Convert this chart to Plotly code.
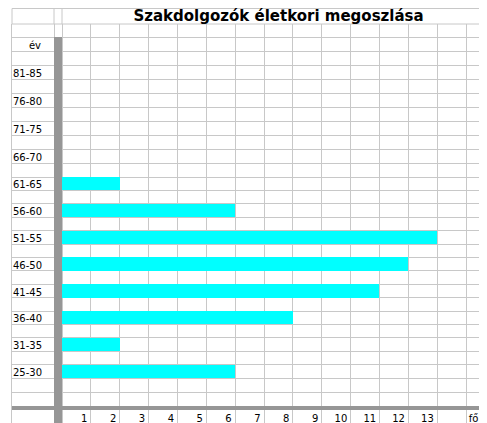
import plotly.graph_objects as go

# ---- data ----
age_groups = ["25-30", "31-35", "36-40", "41-45", "46-50", "51-55",
              "56-60", "61-65", "66-70", "71-75", "76-80", "81-85"]
counts = [6, 2, 8, 11, 12, 13, 6, 2, 0, 0, 0, 0]
header_label = "év"
unit_label = "fő"
x_tick_numbers = list(range(1, 14))
title_text = "Szakdolgozók életkori megoszlása"

# ---- geometry (page has an 8px body margin, so the figure is shifted) ----
OFF = 8
W, H = 487 - OFF, 423 - OFF
ML, MT = 12 - OFF, 24 - OFF
PW, PH = W - ML, H - MT          # 475 x 399
COL = 28.86                      # px per unit on x
x0 = -50 / COL
x1 = x0 + PW / COL
narrow = -8 / COL

# spreadsheet row heights (px), bottom to top
row_h = [14, 14] + [13.4] * 15 + [14] * 10 + [13]
bounds = [0.0]
for h in row_h:
    bounds.append(bounds[-1] + h)
centers = [(bounds[i] + bounds[i + 1]) / 2 for i in range(len(row_h))]
BAR_H = 4                        # grey horizontal bar thickness
BOTROW = 13                      # label row under the grey bar
dom_split = BOTROW / PH
y_bot, y_top = -BAR_H, bounds[-1]

cat_rows = [2 + 2 * i for i in range(len(age_groups))]
header_row = cat_rows[-1] + 2
y_pos = [centers[r] for r in cat_rows]
y_w = [row_h[r] for r in cat_rows]
label_drop = 1.2                 # text sits slightly low in the cells

grid = "#c8c8c8"
greybar = "#969696"
font_fam = "DejaVu Sans, Verdana, Arial, sans-serif"

fig = go.Figure()
fig.add_trace(go.Bar(
    x=counts, y=y_pos, orientation="h", width=y_w,
    marker=dict(color="#00ffff", line=dict(width=0)),
    hoverinfo="skip", showlegend=False, xaxis="x", yaxis="y",
))
fig.add_trace(go.Scatter(x=[None], y=[None], xaxis="x2", yaxis="y2",
                         showlegend=False, hoverinfo="skip"))

xt_vals = [n - (3.5 + 3.1 * len(str(n))) / COL for n in x_tick_numbers]
xt_text = [str(n) for n in x_tick_numbers]
xt_vals.append(14 + 7.5 / COL)
xt_text.append(unit_label)

xminor = dict(tickmode="array", tickvals=[narrow] + list(range(0, 15)),
              showgrid=True, gridcolor=grid, gridwidth=1, ticks="")

fig.update_layout(
    width=W, height=H,
    margin=dict(l=ML, r=0, t=MT, b=0, pad=0),
    paper_bgcolor="white", plot_bgcolor="white",
    bargap=0,
    title=dict(text=title_text, x=(278.5 - 12) / PW, xref="paper",
               xanchor="center", y=1 - (15.5 - OFF) / H, yref="container",
               yanchor="middle",
               font=dict(family=font_fam, size=15, color="black", weight="bold")),
    xaxis=dict(range=[x0, x1], showgrid=False, zeroline=False,
               anchor="y",
               tickmode="array", tickvals=xt_vals, ticktext=xt_text,
               ticks="", ticklen=0, ticklabelstandoff=1,
               tickfont=dict(family=font_fam, size=10, color="black"),
               minor=xminor, fixedrange=True),
    yaxis=dict(domain=[dom_split, 1], range=[y_bot, y_top],
               showgrid=False, zeroline=False,
               tickmode="array",
               tickvals=[v - label_drop for v in y_pos] + [centers[header_row] - label_drop],
               ticktext=age_groups + ["\u00a0" * 5 + header_label],
               ticklabelposition="inside", ticks="", ticklen=0,
               tickfont=dict(family=font_fam, size=10, color="black"),
               minor=dict(tickmode="array", tickvals=bounds,
                          showgrid=True, gridcolor=grid, gridwidth=1, ticks=""),
               showline=True, linecolor=grid, linewidth=1,
               fixedrange=True),
    xaxis2=dict(range=[x0, x1], anchor="y2", showgrid=False, zeroline=False,
                showticklabels=False, ticks="", minor=xminor, fixedrange=True),
    yaxis2=dict(domain=[0, dom_split], range=[0, 1], anchor="x2",
                showgrid=False, zeroline=False, showticklabels=False,
                ticks="", showline=True, linecolor=grid, linewidth=1,
                fixedrange=True),
    shapes=[
        # grey vertical bar (main area and bottom row)
        dict(type="rect", xref="x", yref="y", x0=narrow, x1=0,
             y0=y_bot, y1=bounds[header_row + 1], fillcolor=greybar,
             line=dict(width=0), layer="above"),
        dict(type="rect", xref="x2", yref="y2", x0=narrow, x1=0,
             y0=0, y1=1, fillcolor=greybar,
             line=dict(width=0), layer="above"),
        # grey horizontal bar
        dict(type="rect", xref="paper", yref="y", x0=0, x1=1,
             y0=y_bot, y1=0, fillcolor=greybar,
             line=dict(width=0), layer="above"),
        # title row box
        dict(type="rect", xref="paper", yref="paper", x0=0, x1=1.2,
             y0=1, y1=1 + (MT - 0.5) / PH, line=dict(color=grid, width=1),
             fillcolor="rgba(0,0,0,0)"),
        dict(type="line", xref="x", yref="paper", x0=narrow, x1=narrow,
             y0=1, y1=1 + MT / PH, line=dict(color=grid, width=1)),
        dict(type="line", xref="x", yref="paper", x0=0, x1=0,
             y0=1, y1=1 + MT / PH, line=dict(color=grid, width=1)),
    ],
)

fig.write_html("out.html")
